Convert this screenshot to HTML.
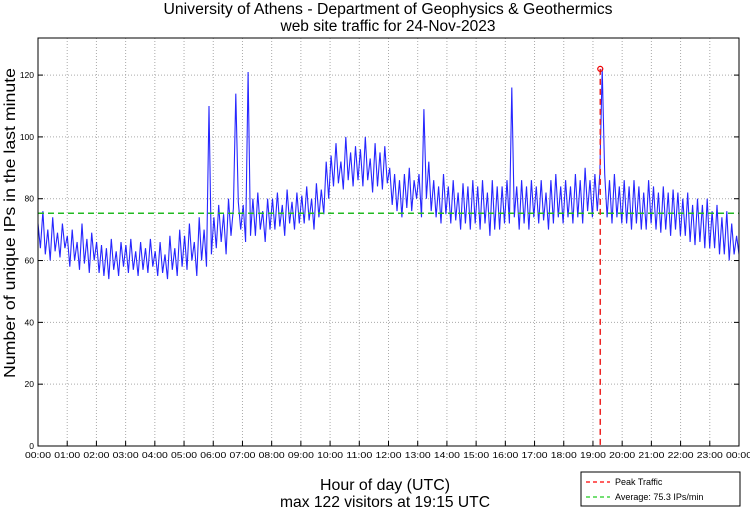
<!DOCTYPE html>
<html><head><meta charset="utf-8"><style>
body{margin:0;background:#fff;width:750px;height:511px;overflow:hidden;font-family:"Liberation Sans",sans-serif}
svg{display:block}
</style></head><body>
<svg id="chart" width="750" height="511">
<text x="388" y="14" text-anchor="middle" font-size="15.5" textLength="449" lengthAdjust="spacingAndGlyphs">University of Athens - Department of Geophysics &amp; Geothermics</text>
<text x="388" y="31" text-anchor="middle" font-size="15.5" textLength="215" lengthAdjust="spacingAndGlyphs">web site traffic for 24-Nov-2023</text>
<g id="grid"></g>
<g id="series"></g>
<g id="axes"></g>
<text x="15" y="223" text-anchor="middle" font-size="16" textLength="310" lengthAdjust="spacingAndGlyphs" transform="rotate(-90 15 223)">Number of unique IPs in the last minute</text>
<text x="385" y="490" text-anchor="middle" font-size="16" textLength="130" lengthAdjust="spacingAndGlyphs">Hour of day (UTC)</text>
<text x="385" y="507" text-anchor="middle" font-size="16" textLength="210" lengthAdjust="spacingAndGlyphs">max 122 visitors at 19:15 UTC</text>
<g>
<rect x="581" y="472" width="159" height="34" fill="#fff" stroke="#000" stroke-width="1"/>
<line x1="586" y1="482" x2="610" y2="482" stroke="#f00" stroke-width="1.2" stroke-dasharray="4,3"/>
<text x="615" y="485" font-size="9">Peak Traffic</text>
<line x1="586" y1="497" x2="610" y2="497" stroke="#2c2" stroke-width="1.2" stroke-dasharray="4,3"/>
<text x="615" y="500" font-size="9">Average: 75.3 IPs/min</text>
</g>
</svg>
<script>
const values = [
72,64,76,62,70,60,74,63,69,61,72,64,
68,58,70,60,66,57,72,59,67,56,69,60,
66,56,65,55,64,54,67,57,63,55,66,58,
65,56,67,57,63,55,66,57,64,56,67,58,
63,55,66,56,62,54,68,57,64,55,70,58,
68,57,72,60,66,55,74,60,70,58,110,62,
74,64,78,66,75,62,80,68,77,114,79,70,
78,66,121,68,80,68,82,70,76,66,80,70,
80,70,82,71,78,68,83,72,79,70,82,72,
81,72,84,73,80,70,85,74,83,75,92,80,
94,84,98,85,92,83,100,86,95,84,97,86,
96,84,100,86,93,82,98,84,95,83,97,85,
90,78,88,76,86,74,88,77,90,76,86,80,
88,74,109,80,92,76,86,74,84,72,88,75,
84,72,86,73,82,70,85,72,84,70,86,72,
84,70,86,72,82,68,86,70,84,70,84,72,
86,72,116,74,84,70,86,72,84,70,86,74,
84,72,86,73,82,70,86,72,88,74,84,72,
86,74,84,72,88,74,86,72,90,76,86,74,
88,76,88,122,88,74,86,72,88,74,84,72,
86,72,84,70,86,72,84,70,82,70,86,72,
84,70,82,69,84,70,82,68,83,70,82,68,
80,68,82,66,78,65,80,66,78,64,80,64,
76,64,78,62,74,62,76,60,72,62,68,62
];
const yTicks = [0,20,40,60,80,100,120];
const xTickLabels = ["00:00","01:00","02:00","03:00","04:00","05:00","06:00","07:00","08:00","09:00","10:00","11:00","12:00","13:00","14:00","15:00","16:00","17:00","18:00","19:00","20:00","21:00","22:00","23:00","00:00"];
const averageValue = 75.3;
const peakValue = 122;
const peakHour = 19.25;

const L=38,R=739,T=38,B=446,YMAX=132;
const sx=h=>L+(R-L)*h/24;
const sy=v=>B-(B-T)*v/YMAX;
const NS="http://www.w3.org/2000/svg";
function mk(tag,attrs,parent){const e=document.createElementNS(NS,tag);for(const k in attrs)e.setAttribute(k,attrs[k]);parent.appendChild(e);return e;}
const grid=document.getElementById('grid'),axes=document.getElementById('axes'),series=document.getElementById('series');
xTickLabels.forEach((lab,i)=>{
  const x=sx(i);
  if(i>0&&i<24){const g=mk('line',{x1:x,y1:T,x2:x,y2:B,stroke:'#aaa','stroke-width':1,'stroke-dasharray':'1,2'},grid);
  
  }
  const t=mk('line',{x1:x,y1:B,x2:x,y2:B-5,stroke:'#000'},axes);
  
  
  const tx=mk('text',{x:x,y:B+12,'text-anchor':'middle','font-size':8.5,'textLength':26,'lengthAdjust':'spacingAndGlyphs'},axes);
  tx.textContent=lab;
  
  
});
yTicks.forEach(v=>{
  const y=sy(v);
  if(v>0){const g=mk('line',{x1:L,y1:y,x2:R,y2:y,stroke:'#aaa','stroke-width':1,'stroke-dasharray':'1,2'},grid);
  
  }
  const t=mk('line',{x1:L,y1:y,x2:L+5,y2:y,stroke:'#000'},axes);
  
  
  const t2=mk('line',{x1:R,y1:y,x2:R-5,y2:y,stroke:'#000'},axes);
  
  
  const tx=mk('text',{x:L-4,y:y+3,'text-anchor':'end','font-size':8.5},axes);
  tx.textContent=v;
  
  
});
const frame=mk('rect',{x:L,y:T,width:R-L,height:B-T,fill:'none',stroke:'#000','stroke-width':1},axes);


const n=values.length;
const pts=values.map((v,i)=>sx(24*i/(n-1)).toFixed(1)+','+sy(v).toFixed(1)).join(' ');
const line=mk('polyline',{points:pts,fill:'none',stroke:'#0000ff','stroke-width':1.1,'stroke-opacity':0.85},series);


const avg=mk('line',{x1:L,y1:sy(averageValue),x2:R,y2:sy(averageValue),stroke:'#22bb22','stroke-width':1.5,'stroke-dasharray':'6,4'},series);


const pk=mk('line',{x1:sx(peakHour),y1:sy(peakValue),x2:sx(peakHour),y2:B,stroke:'#ee2222','stroke-width':1.5,'stroke-dasharray':'6,4'},series);


const pm=mk('circle',{cx:sx(peakHour),cy:sy(peakValue),r:2.5,fill:'none',stroke:'#e00','stroke-width':1.2},series);


</script>
</body></html>
